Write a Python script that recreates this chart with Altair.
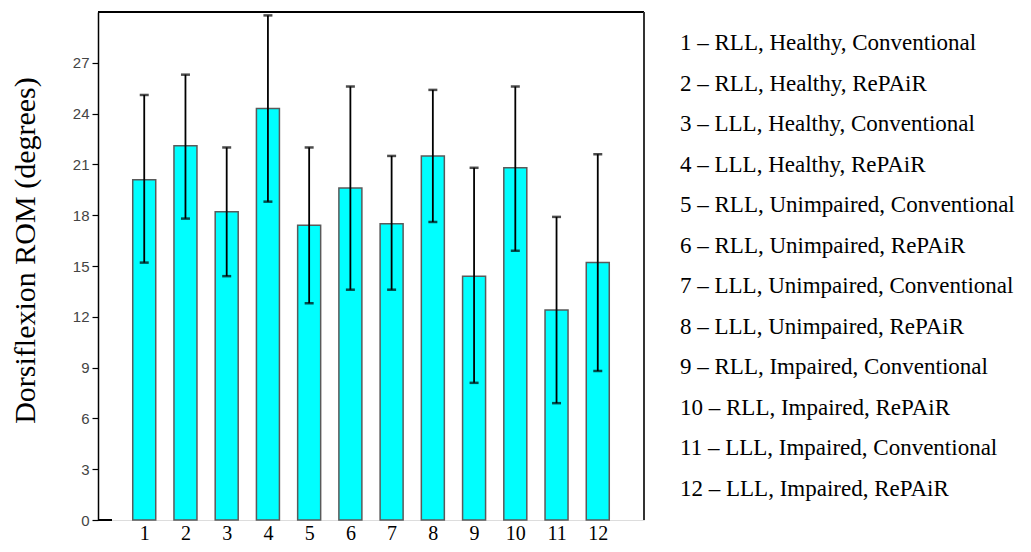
import altair as alt
import pandas as pd

conditions = list(range(1, 13))
means = [20.1, 22.1, 18.2, 24.3, 17.4, 19.6, 17.5, 21.5, 14.4, 20.8, 12.4, 15.2]
upper = [25.1, 26.3, 22.0, 29.8, 22.0, 25.6, 21.5, 25.4, 20.8, 25.6, 17.9, 21.6]
lower = [15.2, 17.8, 14.4, 18.8, 12.8, 13.6, 13.6, 17.6, 8.1, 15.9, 6.9, 8.8]
legend_labels = [
    "1 – RLL, Healthy, Conventional",
    "2 – RLL, Healthy, RePAiR",
    "3 – LLL, Healthy, Conventional",
    "4 – LLL, Healthy, RePAiR",
    "5 – RLL, Unimpaired, Conventional",
    "6 – RLL, Unimpaired, RePAiR",
    "7 – LLL, Unimpaired, Conventional",
    "8 – LLL, Unimpaired, RePAiR",
    "9 – RLL, Impaired, Conventional",
    "10 – RLL, Impaired, RePAiR",
    "11 – LLL, Impaired, Conventional",
    "12 – LLL, Impaired, RePAiR",
]
y_ticks = [0, 3, 6, 9, 12, 15, 18, 21, 24, 27]

W, H = 546, 508
SERIF = "Liberation Serif"
SANS = "Liberation Sans"

df = pd.DataFrame({"cond": conditions, "mean": means, "lo": lower, "hi": upper})
leg = pd.DataFrame({"idx": conditions, "label": legend_labels})

xs = alt.Scale(domain=[0, 13], nice=False, zero=False)
ys = alt.Scale(domain=[0, 30], nice=False)

xenc = alt.X(
    "cond:Q",
    scale=xs,
    axis=alt.Axis(
        values=conditions, format="d", domain=False, ticks=False, grid=False,
        labelFont=SERIF, labelFontSize=20, labelColor="black",
        labelBaseline="bottom", labelPadding=23,
        title=None,
    ),
)

bars = alt.Chart(df).mark_bar(
    size=23, color="#00FFFF", stroke="#5a5a5a", strokeWidth=1.5
).encode(
    x=xenc,
    y=alt.Y(
        "mean:Q",
        scale=ys,
        axis=alt.Axis(
            values=y_ticks, grid=False, domainColor="black", domainWidth=1.5,
            tickColor="black", tickSize=6, tickWidth=1.2,
            labelFont=SANS, labelFontSize=15, labelColor="#444444", labelPadding=3,
            title="Dorsiflexion ROM (degrees)", titleFont=SERIF, titleFontSize=30,
            titleFontWeight="normal", titleColor="black",
            titleAngle=270, titleX=-73, titleY=238, titleAlign="center",
            titleBaseline="middle",
        ),
    ),
)

err = alt.Chart(df).mark_rule(color="black", strokeWidth=1.8).encode(
    x=alt.X("cond:Q", scale=xs), y=alt.Y("lo:Q", scale=ys), y2="hi:Q"
)
cap_hi = alt.Chart(df).mark_tick(
    orient="horizontal", size=9, thickness=2.5, color="black"
).encode(x=alt.X("cond:Q", scale=xs), y=alt.Y("hi:Q", scale=ys))
cap_lo = alt.Chart(df).mark_tick(
    orient="horizontal", size=9, thickness=2.5, color="black"
).encode(x=alt.X("cond:Q", scale=xs), y=alt.Y("lo:Q", scale=ys))

plot = alt.layer(bars, err, cap_hi, cap_lo)

legend_text = alt.Chart(leg).mark_text(
    align="left", baseline="middle", font=SERIF, fontSize=23, color="black"
).encode(
    x=alt.value(582),
    y=alt.Y("idx:O", scale=alt.Scale(type="point", padding=0.77), axis=None),
    text="label:N",
)

frame_top = alt.Chart(df).mark_rule(color="black", strokeWidth=1.5).encode(
    x=alt.value(0), x2=alt.value(W), y=alt.value(0)
)
frame_right = alt.Chart(df).mark_rule(color="#333333", strokeWidth=1.5).encode(
    x=alt.value(W), y=alt.value(0), y2=alt.value(H)
)
stub = alt.Chart(df).mark_rule(color="black", strokeWidth=1.5).encode(
    x=alt.value(0), x2=alt.value(14), y=alt.value(H)
)

chart = alt.layer(plot, legend_text, frame_top, frame_right, stub).resolve_scale(
    y="independent"
).properties(
    width=W, height=H, autosize="none",
    padding={"left": 90, "top": 4, "right": 379, "bottom": 24},
).configure_view(stroke=None).configure(background="white")

chart.save("out.html", embed_options={"renderer": "svg", "actions": False})
